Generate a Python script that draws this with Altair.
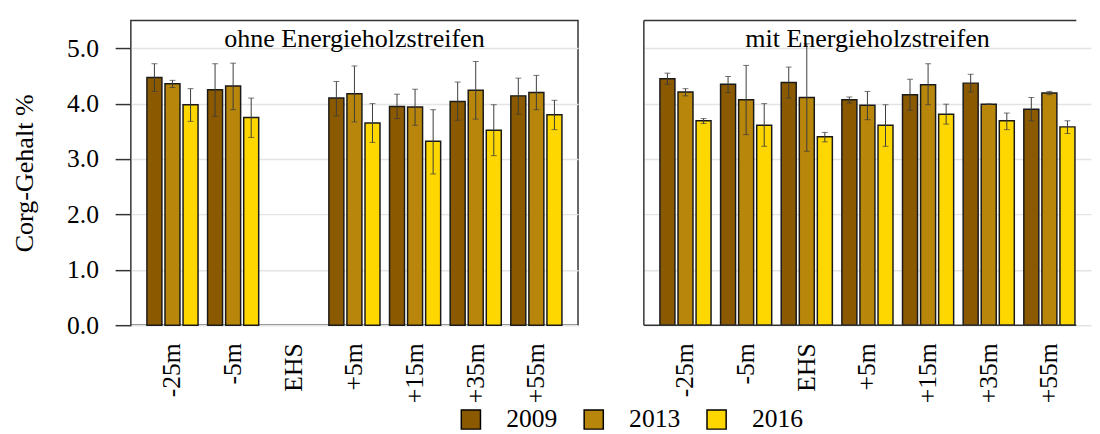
import altair as alt
import pandas as pd

FONT = "Liberation Serif"

positions = ["-25m", "-5m", "EHS", "+5m", "+15m", "+35m", "+55m"]
years = ["2009", "2013", "2016"]
year_colors = ["#8B5A00", "#B8860B", "#FFD700"]
y_ticks = [0, 1, 2, 3, 4, 5]
panel_titles = ["ohne Energieholzstreifen", "mit Energieholzstreifen"]

# ohne Energieholzstreifen (no EHS values)
ohne_2009 = [4.47, 4.25, None, 4.10, 3.95, 4.04, 4.14]
ohne_2013 = [4.36, 4.32, None, 4.18, 3.94, 4.24, 4.20]
ohne_2016 = [3.98, 3.75, None, 3.65, 3.32, 3.52, 3.80]
ohne_lo_2009 = [4.22, 3.77, None, 3.78, 3.73, 3.70, 3.81]
ohne_lo_2013 = [4.29, 3.89, None, 3.67, 3.61, 3.72, 3.89]
ohne_lo_2016 = [3.68, 3.39, None, 3.30, 2.73, 3.06, 3.53]
ohne_hi_2009 = [4.72, 4.72, None, 4.40, 4.17, 4.39, 4.46]
ohne_hi_2013 = [4.42, 4.73, None, 4.68, 4.26, 4.76, 4.51]
ohne_hi_2016 = [4.27, 4.10, None, 4.00, 3.89, 3.98, 4.06]

# mit Energieholzstreifen
mit_2009 = [4.45, 4.35, 4.38, 4.07, 4.16, 4.37, 3.90]
mit_2013 = [4.21, 4.07, 4.11, 3.97, 4.34, 3.99, 4.19]
mit_2016 = [3.69, 3.61, 3.40, 3.61, 3.81, 3.69, 3.58]
mit_lo_2009 = [4.35, 4.20, 4.10, 4.01, 3.88, 4.21, 3.69]
mit_lo_2013 = [4.14, 3.44, 3.14, 3.71, 3.98, 3.99, 4.16]
mit_lo_2016 = [3.64, 3.23, 3.31, 3.23, 3.63, 3.53, 3.46]
mit_hi_2009 = [4.55, 4.49, 4.66, 4.12, 4.44, 4.53, 4.11]
mit_hi_2013 = [4.27, 4.69, 5.08, 4.22, 4.72, 3.99, 4.22]
mit_hi_2016 = [3.73, 4.00, 3.48, 3.98, 3.99, 3.83, 3.69]


def build(means, los, his):
    rows = []
    for yr, m, lo, hi in zip(years, means, los, his):
        for p, v, l, h in zip(positions, m, lo, hi):
            if v is None:
                continue
            rows.append({"pos": p, "year": yr, "value": v, "lo": l, "hi": h})
    return pd.DataFrame(rows)


df_ohne = build([ohne_2009, ohne_2013, ohne_2016],
                [ohne_lo_2009, ohne_lo_2013, ohne_lo_2016],
                [ohne_hi_2009, ohne_hi_2013, ohne_hi_2016])
df_mit = build([mit_2009, mit_2013, mit_2016],
               [mit_lo_2009, mit_lo_2013, mit_lo_2016],
               [mit_hi_2009, mit_hi_2013, mit_hi_2016])

W, H = 455, 310        # full panel size
W_RIGHT = 440          # right panel is cut off by the image edge
FRAME = "#333333"
ERR = "#3a3a3a"
GRID = "#e4e4e4"


def panel(df, title, left):
    pw = W if left else W_RIGHT
    x = alt.X("pos:N",
              scale=alt.Scale(domain=positions, paddingInner=0.157, paddingOuter=0.265,
                              range=[0, W]),
              axis=alt.Axis(title=None, labelAngle=-90, ticks=False, domain=False,
                            labelFont=FONT, labelFontSize=26, labelColor="black",
                            labelPadding=18))
    xo = alt.XOffset("year:N", scale=alt.Scale(domain=years, paddingInner=0.17, paddingOuter=0))
    if left:
        yaxis = alt.Axis(values=y_ticks, format=".1f", tickSize=16, tickColor=FRAME,
                         tickWidth=1.5, domain=False, labelFont=FONT, labelFontSize=26,
                         labelColor="black", labelPadding=17, grid=True,
                         gridColor=GRID, gridWidth=1.5,
                         title="Corg-Gehalt %", titleFont=FONT, titleFontSize=26.5,
                         titleFontWeight="normal", titleColor="black", titlePadding=29)
        legend = alt.Legend(orient="none", legendX=333, legendY=393, direction="horizontal",
                            title=None, symbolType="square", symbolSize=380,
                            symbolStrokeColor="black", symbolStrokeWidth=1.5,
                            labelFont=FONT, labelFontSize=26, labelColor="black",
                            labelOffset=23, columnPadding=24)
    else:
        yaxis = alt.Axis(values=y_ticks, labels=False, ticks=False, domain=False, title=None,
                         grid=True, gridColor=GRID, gridWidth=1.5,
                         minExtent=0, maxExtent=0)
        legend = None
    y = alt.Y("value:Q", scale=alt.Scale(domain=[0, 5.5], nice=False), axis=yaxis)
    color = alt.Color("year:N", scale=alt.Scale(domain=years, range=year_colors), legend=legend)

    base = alt.Chart(df)
    bars = base.mark_bar(stroke="#1a1a1a", strokeWidth=1.5).encode(x=x, xOffset=xo, y=y, color=color)
    rules = base.mark_rule(color=ERR, strokeWidth=1).encode(
        x=x, xOffset=xo, y=alt.Y("lo:Q"), y2="hi:Q")
    cap_lo = base.mark_tick(orient="horizontal", size=6, thickness=1, color=ERR).encode(
        x=x, xOffset=xo, y=alt.Y("lo:Q"))
    cap_hi = base.mark_tick(orient="horizontal", size=6, thickness=1, color=ERR).encode(
        x=x, xOffset=xo, y=alt.Y("hi:Q"))
    txt = alt.Chart(pd.DataFrame({"t": [title]})).mark_text(
        font=FONT, fontSize=26.5, color="black", baseline="middle", align="center").encode(
        text="t:N", x=alt.value(W / 2), y=alt.value(19))
    layers = [bars, rules, cap_lo, cap_hi, txt]
    if left:
        return alt.layer(*layers).properties(width=pw, height=H)
    # frame drawn by hand: top, left and bottom edges (right edge is off the image)
    fr_top = alt.Chart(pd.DataFrame({"t": [title]})).mark_rule(color=FRAME, strokeWidth=1.5).encode(
        x=alt.value(0), x2=alt.value(pw), y=alt.value(0))
    fr_bot = alt.Chart(pd.DataFrame({"t": [title]})).mark_rule(color=FRAME, strokeWidth=1.5).encode(
        x=alt.value(0), x2=alt.value(pw), y=alt.value(H))
    fr_left = alt.Chart(pd.DataFrame({"t": [title]})).mark_rule(color=FRAME, strokeWidth=1.5).encode(
        x=alt.value(0), y=alt.value(0), y2=alt.value(H))
    return alt.layer(*layers, fr_top, fr_bot, fr_left).properties(
        width=pw, height=H, view=alt.ViewBackground(stroke="transparent"))


chart = alt.hconcat(
    panel(df_ohne, panel_titles[0], True),
    panel(df_mit, panel_titles[1], False),
    spacing=64,
).properties(
    padding={"left": 2, "top": 7, "right": 0, "bottom": 0}
).configure(
    font=FONT,
    view=alt.ViewConfig(stroke=FRAME, strokeWidth=1.5),
)

chart.save("out.html", embed_options={"renderer": "svg", "actions": False})
